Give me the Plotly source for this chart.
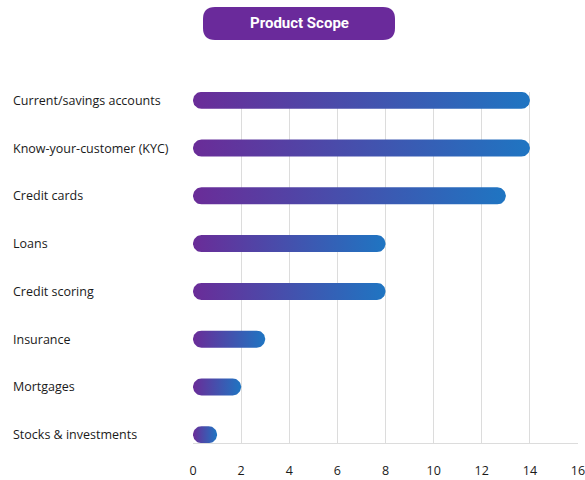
import numpy as np
import plotly.graph_objects as go

# Product scope coverage: number of providers per product area
categories = [
    "Current/savings accounts",
    "Know-your-customer (KYC)",
    "Credit cards",
    "Loans",
    "Credit scoring",
    "Insurance",
    "Mortgages",
    "Stocks & investments",
]
values = [14, 14, 13, 8, 8, 3, 2, 1]
x_ticks = [0, 2, 4, 6, 8, 10, 12, 14, 16]

PURPLE = "#6a2c98"
BLUE = "#1f75c2"
GRID = "#dcdcdc"
TEXT = "#1a1a1a"

W, H = 585, 480
M_L, M_R, M_T, M_B = 193, 7, 92, 37
X_RANGE = [0, 16]
Y_PAD = 0.175
Y_RANGE = [len(categories) - 1 + Y_PAD, -Y_PAD]

plot_w = W - M_L - M_R
plot_h = H - M_T - M_B
px_per_x = plot_w / (X_RANGE[1] - X_RANGE[0])
px_per_y = plot_h / (Y_RANGE[0] - Y_RANGE[1])

BAR_PX = 17  # bar thickness in pixels
rx = (BAR_PX / 2) / px_per_x
ry = (BAR_PX / 2) / px_per_y


def capsule(x0, x1, yc, n=24):
    """Rounded-end bar outline from x0 to x1 centred on yc."""
    r = min(rx, (x1 - x0) / 2)
    t_right = np.linspace(np.pi / 2, -np.pi / 2, n)
    t_left = np.linspace(-np.pi / 2, -3 * np.pi / 2, n)
    xs = np.concatenate([x1 - r + r * np.cos(t_right), x0 + r + r * np.cos(t_left)])
    ys = np.concatenate([yc + ry * np.sin(t_right), yc + ry * np.sin(t_left)])
    return np.append(xs, xs[0]), np.append(ys, ys[0])


fig = go.Figure()

for i, (cat, val) in enumerate(zip(categories, values)):
    xs, ys = capsule(0, val, i)
    fig.add_trace(
        go.Scatter(
            x=xs,
            y=ys,
            mode="lines",
            line=dict(width=0),
            fill="toself",
            fillgradient=dict(
                type="horizontal",
                colorscale=[[0, PURPLE], [1, BLUE]],
            ),
            name=cat,
            hoveron="fills",
            text=f"{cat}: {val}",
            hoverinfo="text",
            showlegend=False,
        )
    )

# Category labels, left-aligned in the margin
for i, cat in enumerate(categories):
    fig.add_annotation(
        x=(11 - M_L) / plot_w,
        xref="paper",
        y=i,
        yref="y",
        text=cat,
        showarrow=False,
        xanchor="left",
        yanchor="middle",
        font=dict(family="Open Sans", size=12.5, color=TEXT),
    )

# Title pill
box_w, box_h, rad = 192, 33, 12
hw, hh = box_w / 2, box_h / 2
pill = (
    f"M {-hw + rad},{-hh} L {hw - rad},{-hh} Q {hw},{-hh} {hw},{-hh + rad} "
    f"L {hw},{hh - rad} Q {hw},{hh} {hw - rad},{hh} L {-hw + rad},{hh} "
    f"Q {-hw},{hh} {-hw},{hh - rad} L {-hw},{-hh + rad} Q {-hw},{-hh} {-hw + rad},{-hh} Z"
)
cx_paper = (299 - M_L) / plot_w
cy_paper = (H - M_B - 23.5) / plot_h
fig.add_shape(
    type="path",
    path=pill,
    xref="paper",
    yref="paper",
    xsizemode="pixel",
    ysizemode="pixel",
    xanchor=cx_paper,
    yanchor=cy_paper,
    fillcolor="#6a2a9b",
    line=dict(width=0),
    layer="above",
)
fig.add_annotation(
    x=cx_paper,
    y=cy_paper,
    xref="paper",
    yref="paper",
    text="<b>Product Scope</b>",
    showarrow=False,
    xanchor="center",
    yanchor="middle",
    font=dict(family="Roboto", size=15, color="white"),
)

fig.update_layout(
    width=W,
    height=H,
    margin=dict(l=M_L, r=M_R, t=M_T, b=M_B),
    paper_bgcolor="white",
    plot_bgcolor="white",
    showlegend=False,
    xaxis=dict(
        range=X_RANGE,
        tickvals=x_ticks,
        ticktext=[str(v) for v in x_ticks],
        showgrid=True,
        gridcolor=GRID,
        gridwidth=1,
        zeroline=False,
        showline=True,
        linecolor=GRID,
        linewidth=1,
        ticks="",
        ticklabelstandoff=16,
        ticklabeloverflow="allow",
        tickfont=dict(family="Open Sans", size=12.5, color=TEXT),
        automargin=False,
        fixedrange=True,
    ),
    yaxis=dict(
        range=Y_RANGE,
        showgrid=False,
        zeroline=False,
        showticklabels=False,
        showline=False,
        automargin=False,
        fixedrange=True,
    ),
)

fig.write_html("out.html")
